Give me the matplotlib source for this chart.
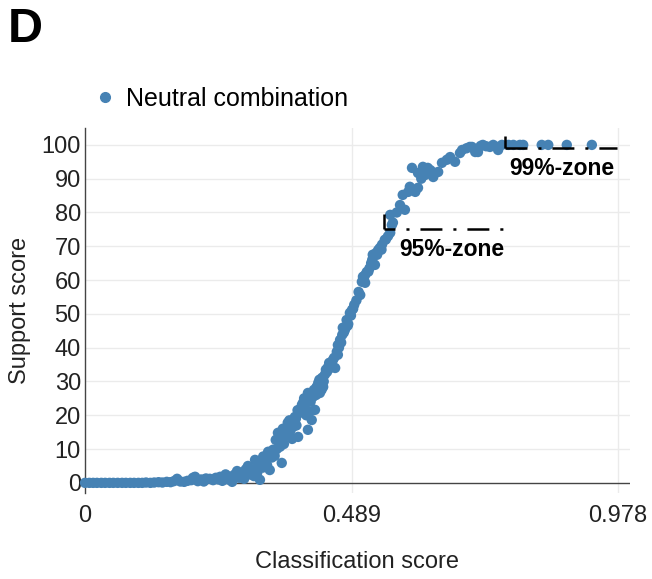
import matplotlib
matplotlib.use("Agg")
import matplotlib.pyplot as plt
from matplotlib.lines import Line2D

plt.rcParams['font.family'] = ['Liberation Sans', 'DejaVu Sans']
plt.rcParams['lines.scale_dashes'] = False

# Neutral combination: classification score vs support score
x_vals = [0.000, 0.008, 0.015, 0.022, 0.030, 0.037, 0.045, 0.052, 0.060, 0.068,
          0.075, 0.083, 0.090, 0.098, 0.105, 0.112, 0.120, 0.127, 0.135, 0.142,
          0.150, 0.157, 0.163, 0.169, 0.175, 0.182, 0.188, 0.195, 0.202, 0.198,
          0.207, 0.213, 0.218, 0.222, 0.229, 0.235, 0.240, 0.248, 0.252, 0.260,
          0.263, 0.270, 0.274, 0.279, 0.283, 0.288, 0.292, 0.299, 0.303, 0.307,
          0.312, 0.316, 0.321, 0.321, 0.326, 0.330, 0.334, 0.336, 0.339, 0.345,
          0.348, 0.350, 0.354, 0.358, 0.361, 0.365, 0.368, 0.372, 0.376, 0.380,
          0.382, 0.385, 0.388, 0.391, 0.394, 0.398, 0.400, 0.404, 0.407, 0.409,
          0.409, 0.412, 0.416, 0.418, 0.422, 0.425, 0.428, 0.431, 0.434, 0.435,
          0.437, 0.440, 0.444, 0.446, 0.450, 0.453, 0.455, 0.459, 0.462, 0.464,
          0.464, 0.468, 0.472, 0.473, 0.477, 0.480, 0.483, 0.486, 0.490, 0.494,
          0.498, 0.505, 0.508, 0.510, 0.514, 0.514, 0.517, 0.522, 0.527, 0.528,
          0.532, 0.534, 0.538, 0.541, 0.545, 0.550, 0.556, 0.560, 0.563, 0.560,
          0.565, 0.572, 0.578, 0.583, 0.587, 0.593, 0.596, 0.600, 0.606, 0.611,
          0.611, 0.617, 0.620, 0.624, 0.629, 0.634, 0.639, 0.648, 0.655, 0.664,
          0.670, 0.679, 0.688, 0.692, 0.700, 0.706, 0.710, 0.716, 0.721, 0.726,
          0.730, 0.736, 0.743, 0.749, 0.756, 0.758, 0.765, 0.777, 0.786, 0.798,
          0.804, 0.838, 0.850, 0.884, 0.930,
          0.343, 0.352, 0.357, 0.363, 0.370, 0.375, 0.378, 0.387, 0.390, 0.396,
          0.402, 0.406, 0.414, 0.420, 0.424, 0.430, 0.438, 0.442, 0.448, 0.457,
          0.466, 0.470, 0.475, 0.482, 0.488, 0.492, 0.502, 0.512, 0.520, 0.525,
          0.536, 0.544, 0.552, 0.220, 0.245, 0.258, 0.267, 0.285, 0.295, 0.310,
          0.318, 0.327, 0.332]
y_vals = [0.0, 0.0, 0.0, 0.0, 0.0, 0.0, 0.0, 0.0, 0.0, 0.0,
          0.0, 0.0, 0.0, 0.0, 0.0, 0.1, 0.0, 0.1, 0.2, 0.1,
          0.3, 0.2, 0.5, 1.2, 0.4, 0.3, 0.6, 0.8, 1.8, 1.5,
          0.5, 1.0, 0.4, 1.3, 1.2, 0.8, 1.5, 1.8, 0.6, 2.0,
          1.0, 0.3, 2.4, 3.5, 1.5, 2.8, 1.2, 5.0, 2.5, 4.0,
          6.8, 3.0, 6.2, 0.9, 4.5, 7.0, 5.3, 9.2, 3.8, 9.8,
          8.0, 12.7, 14.8, 10.7, 5.9, 11.5, 15.5, 17.8, 15.1, 13.0,
          16.6, 19.5, 17.0, 13.6, 20.7, 23.1, 23.7, 22.0, 24.6, 15.7,
          26.6, 21.0, 18.6, 25.4, 21.6, 28.4, 29.6, 26.6, 27.5, 31.1,
          28.4, 32.0, 32.8, 34.3, 34.0, 35.5, 36.4, 34.0, 38.8, 37.9,
          40.8, 42.3, 43.8, 45.9, 45.3, 48.2, 47.0, 50.3, 51.2, 52.7,
          54.0, 55.6, 59.5, 61.0, 59.2, 61.5, 62.4, 63.5, 66.0, 67.5,
          64.5, 68.0, 68.9, 69.5, 70.5, 71.9, 73.0, 74.0, 76.3, 79.3,
          77.0, 80.0, 82.2, 85.2, 80.8, 86.1, 87.6, 93.2, 86.1, 87.3,
          91.7, 90.0, 93.5, 91.1, 93.2, 92.5, 90.5, 92.0, 94.7, 95.6,
          96.4, 95.0, 97.6, 98.5, 99.0, 99.4, 99.4, 97.9, 97.9, 99.7,
          100.0, 99.6, 99.4, 100.0, 99.4, 98.5, 100.0, 100.0, 100.0, 100.0,
          100.0, 100.0, 100.0, 100.0, 100.0,
          7.5, 10.0, 13.5, 16.0, 14.0, 18.5, 16.0, 19.0, 21.5, 22.0,
          25.0, 20.0, 24.0, 27.5, 26.0, 30.5, 30.0, 33.5, 35.5, 37.0,
          40.0, 41.5, 44.5, 46.5, 49.5, 51.5, 56.5, 60.0, 62.5, 65.0,
          67.5, 69.0, 72.0, 1.0, 1.0, 2.5, 1.8, 3.0, 4.0, 2.0,
          5.5, 7.8, 6.5]

x_ticks = [0, 0.489, 0.978]
x_tick_labels = ["0", "0.489", "0.978"]
y_ticks = list(range(0, 101, 10))

zone95 = {"x0": 0.549, "x1": 0.780, "y": 75, "label": "95%-zone"}
zone99 = {"x0": 0.770, "x1": 0.977, "y": 99, "label": "99%-zone"}

W, H = 652, 579
fig = plt.figure(figsize=(W / 100, H / 100), dpi=100)
ax = fig.add_axes([85 / W, (579 - 493) / H, 545 / W, 365 / H])

color = "#4682b4"
ax.set_xlim(0, 1.0)
ax.set_ylim(-3, 105)

for t in y_ticks:
    if t != 0:
        ax.axhline(t, color="#ebebeb", lw=1, zorder=0)
for t in x_ticks[1:]:
    ax.axvline(t, color="#ebebeb", lw=1, zorder=0)
ax.axhline(0, color="#444444", lw=1, zorder=1)

ax.scatter(x_vals, y_vals, s=56, color=color, edgecolors="none", zorder=3, clip_on=False)

for side in ["top", "right", "bottom"]:
    ax.spines[side].set_visible(False)
ax.spines["left"].set_color("#444444")
ax.spines["left"].set_linewidth(1)

ax.set_xticks(x_ticks)
ax.set_xticklabels(x_tick_labels)
ax.set_yticks(y_ticks)
ax.tick_params(axis="both", length=0, labelsize=17, colors="#222222")
ax.tick_params(axis="y", pad=3)
ax.tick_params(axis="x", pad=9)

fig.text(357 / W, 1 - 562 / H, "Classification score", ha="center", va="center", fontsize=17, color="#222222")
fig.text(20 / W, 1 - 310 / H, "Support score", ha="center", va="center", rotation=90, fontsize=17, color="#222222")

# zone markers
for z, off, dy in [(zone95, 7.9, 4.5), (zone99, 0.0, 3.5)]:
    ax.plot([z["x0"], z["x0"]], [z["y"], z["y"] + dy], color="black", lw=1.8, zorder=4, solid_capstyle="butt")
    ln, = ax.plot([z["x0"], z["x1"]], [z["y"], z["y"]], color="black", lw=1.8, zorder=4)
    ln.set_linestyle((off, (15.8, 7.9, 2.2, 7.9)))
ax.text(zone95["x0"] + 0.028, zone95["y"] - 6.0, zone95["label"], fontsize=16.5, fontweight="bold", va="center", ha="left", zorder=5)
ax.text(zone99["x0"] + 0.008, zone99["y"] - 6.0, zone99["label"], fontsize=16.5, fontweight="bold", va="center", ha="left", zorder=5)

# legend
fig.legend(handles=[Line2D([], [], marker="o", ls="none", color=color, markersize=7)],
           labels=["Neutral combination"], loc="center left",
           bbox_to_anchor=(92 / W, 1 - 99 / H), frameon=False, fontsize=18,
           handletextpad=0.35, borderpad=0, borderaxespad=0, handlelength=1.0)

fig.text(8 / W, 1 - 30 / H, "D", fontsize=35, fontweight="bold", ha="left", va="center")

fig.savefig("out.png", dpi=100)
